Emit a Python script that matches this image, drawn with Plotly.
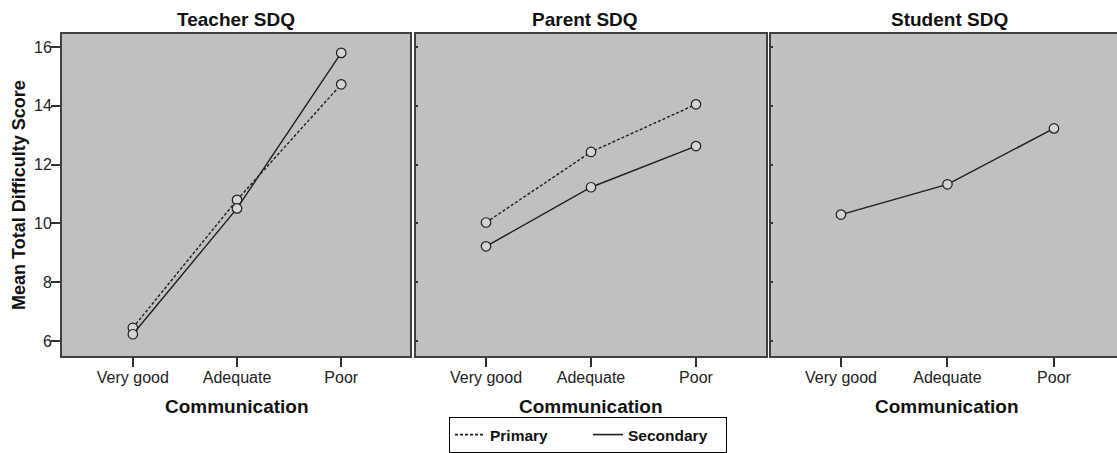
import plotly.graph_objects as go

categories = ["Very good", "Adequate", "Poor"]
panels = ["Teacher SDQ", "Parent SDQ", "Student SDQ"]

teacher_primary = [6.45, 10.8, 14.73]
teacher_secondary = [6.23, 10.51, 15.8]
parent_primary = [10.03, 12.43, 14.05]
parent_secondary = [9.22, 11.23, 12.63]
student_secondary = [10.3, 11.33, 13.23]

y_ticks = [6, 8, 10, 12, 14, 16]
legend_names = ["Primary", "Secondary"]

W, H = 1117, 453
ML, MR, MT, MB = 62, 0, 34, 97
PW, PH = W - ML - MR, H - MT - MB
FONT = "Liberation Sans, Arial, sans-serif"
BG = "#c0c0c0"
LINE = "#1e1e1e"
BORDER = "#404040"
DASHED = "3px,2px"

def px_x(p):
    return (p - ML) / PW

def px_y(p):
    return (H - MB - p) / PH

fig = go.Figure()

series = [
    ("x", "y", teacher_primary, DASHED),
    ("x", "y", teacher_secondary, "solid"),
    ("x2", "y2", parent_primary, DASHED),
    ("x2", "y2", parent_secondary, "solid"),
    ("x3", "y3", student_secondary, "solid"),
]
for xa, ya, vals, dash in series:
    fig.add_trace(go.Scatter(
        x=categories, y=vals, xaxis=xa, yaxis=ya,
        mode="lines+markers", showlegend=False,
        line=dict(color=LINE, width=1.4, dash=dash),
        marker=dict(symbol="circle", size=9.5, color="#d4d4d4",
                    line=dict(color=LINE, width=1.2)),
        hoverinfo="x+y",
    ))

# legend-only entries (line samples, no markers)
for name, dash in zip(legend_names, [DASHED, "solid"]):
    fig.add_trace(go.Scatter(
        x=[None], y=[None], name=name, mode="lines", showlegend=True,
        line=dict(color=LINE, width=1.6, dash=dash),
    ))

x_domains = [(62, 410), (416, 766), (771, 1117)]
x_ranges = [(-0.68, 2.66), (-0.667, 2.667), (-0.657, 2.592)]
y_dom = [0, 1]
y_rng = [5.49, 16.442]

layout = dict(
    width=W, height=H,
    margin=dict(l=ML, r=MR, t=MT, b=MB),
    paper_bgcolor="white",
    plot_bgcolor=BG,
    font=dict(family=FONT, color="#202020"),
    showlegend=True,
    legend=dict(
        orientation="h", x=px_x(449), xanchor="left", y=px_y(453), yanchor="bottom",
        bgcolor="white", bordercolor="#000000", borderwidth=1,
        font=dict(family=FONT, size=15.5, color="#111111", weight="bold"),
        itemwidth=30, entrywidth=93, tracegroupgap=0,
    ),
)

for i in range(3):
    sx = "" if i == 0 else str(i + 1)
    d0, d1 = x_domains[i]
    layout["xaxis" + sx] = dict(
        domain=[max(0, px_x(d0)), min(1, px_x(d1))], range=list(x_ranges[i]),
        type="category", categoryorder="array", categoryarray=categories,
        anchor="y" + sx, showgrid=False, zeroline=False,
        showline=True, linecolor=BORDER, linewidth=2, mirror=True,
        ticks="outside", ticklen=9, tickwidth=1.5, tickcolor="#303030",
        tickfont=dict(family=FONT, size=16, color="#222222"),
        ticklabelstandoff=-3,
        automargin=False,
    )
    ya = dict(
        domain=y_dom, range=y_rng, anchor="x" + sx,
        showgrid=False, zeroline=False,
        showline=True, linecolor=BORDER, linewidth=2,
        mirror=(i < 2),
        tickvals=y_ticks, automargin=False,
    )
    if i == 0:
        ya.update(ticks="outside", ticklen=9, tickwidth=1.5, tickcolor="#303030",
                  tickfont=dict(family=FONT, size=16, color="#222222"),
                  ticklabelstandoff=-4)
    else:
        ya.update(ticks="inside", ticklen=2, tickwidth=1.5, tickcolor="#303030",
                  showticklabels=False)
    layout["yaxis" + sx] = ya

fig.update_layout(**layout)

title_x = [236, 585, 949]
axis_title_x = [237, 591, 947]
for i in range(3):
    fig.add_annotation(
        text=panels[i], x=px_x(title_x[i]), y=px_y(19), xref="paper", yref="paper",
        xanchor="center", yanchor="middle", showarrow=False,
        font=dict(family=FONT, size=19, color="#111111", weight="bold"),
    )
    fig.add_annotation(
        text="Communication", x=px_x(axis_title_x[i]), y=px_y(407),
        xref="paper", yref="paper", xanchor="center", yanchor="middle",
        showarrow=False,
        font=dict(family=FONT, size=19, color="#111111", weight="bold"),
    )

fig.add_annotation(
    text="Mean Total Difficulty Score", x=px_x(19), y=px_y(195),
    xref="paper", yref="paper", xanchor="center", yanchor="middle",
    textangle=-90, showarrow=False,
    font=dict(family=FONT, size=18, color="#111111", weight="bold"),
)

fig.write_html(
    "out.html",
    config={"displayModeBar": False},
    post_script="document.body.style.margin='0px';document.body.style.overflow='hidden';",
)
